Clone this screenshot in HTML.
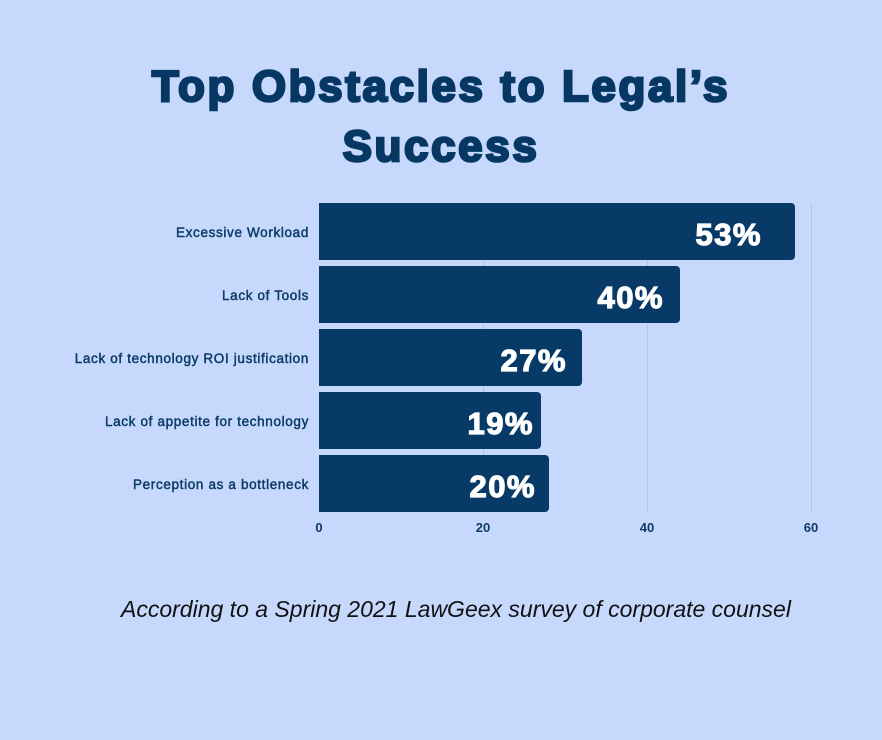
<!DOCTYPE html>
<html><head><style>
body{margin:0;width:882px;height:740px;background:#c6d9fd;position:relative;overflow:hidden;font-family:"Liberation Sans",sans-serif}
.t{position:absolute;left:0;width:882px;text-align:center;color:#073763;font-weight:bold;font-size:44px;-webkit-text-stroke:2.5px #073763;letter-spacing:2.6px}
.bar{position:absolute;left:319px;height:57px;background:#073a66;border-radius:0 4px 4px 0}
.pct{position:absolute;color:#fff;font-weight:bold;font-size:31px;-webkit-text-stroke:1.2px #fff;text-align:right;width:120px;letter-spacing:1.5px}
.lab{position:absolute;right:573px;color:#0b3a66;font-size:13.5px;font-weight:normal;-webkit-text-stroke:0.45px #0b3a66;letter-spacing:0.65px;white-space:nowrap}
.grid{position:absolute;top:203px;height:310px;width:1px;background:#aec4ea}
.tick{position:absolute;top:520px;color:#0b3a66;font-size:13px;font-weight:bold;width:40px;text-align:center}
.cap{position:absolute;top:596px;left:0;width:912px;text-align:center;font-style:italic;font-size:23px;color:#111}
</style></head><body>
<div class="t" style="top:62px">Top Obstacles to Legal’s</div>
<div class="t" style="top:122px">Success</div>
<div class="grid" style="left:483px"></div>
<div class="grid" style="left:647px"></div>
<div class="grid" style="left:811px"></div>
<div class="bar" style="top:203px;width:476px"></div>
<div class="bar" style="top:266px;width:361px"></div>
<div class="bar" style="top:329px;width:263px"></div>
<div class="bar" style="top:392px;width:222px"></div>
<div class="bar" style="top:455px;width:230px"></div>
<div class="pct" style="top:217px;left:642px">53%</div>
<div class="pct" style="top:280px;left:544px">40%</div>
<div class="pct" style="top:343px;left:447px">27%</div>
<div class="pct" style="top:406px;left:414px">19%</div>
<div class="pct" style="top:469px;left:416px">20%</div>
<div class="lab" style="top:225px">Excessive Workload</div>
<div class="lab" style="top:288px">Lack of Tools</div>
<div class="lab" style="top:351px">Lack of technology ROI justification</div>
<div class="lab" style="top:414px">Lack of appetite for technology</div>
<div class="lab" style="top:477px">Perception as a bottleneck</div>
<div class="tick" style="left:299px">0</div>
<div class="tick" style="left:463px">20</div>
<div class="tick" style="left:627px">40</div>
<div class="tick" style="left:791px">60</div>
<div class="cap">According to a Spring 2021 LawGeex survey of corporate counsel</div>
</body></html>
